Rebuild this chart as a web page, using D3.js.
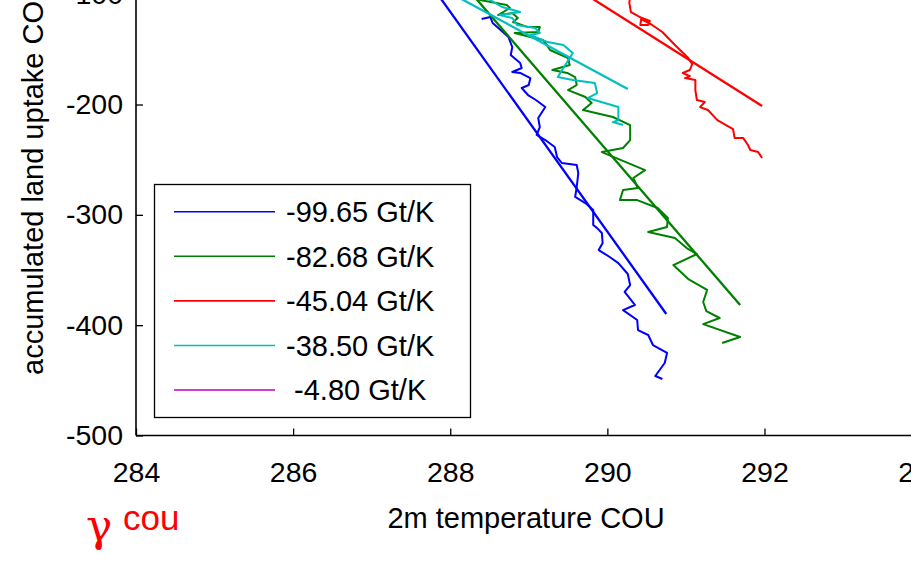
<!DOCTYPE html>
<html><head><meta charset="utf-8">
<script src="https://cdn.jsdelivr.net/npm/d3@7"></script>
<style>
body{margin:0;background:#fff;}
svg{display:block;}
text{font-family:"Liberation Sans",Arial,Helvetica,sans-serif;fill:#000;}
</style>
</head><body>
<svg id="c" width="911" height="563"></svg>
<script>
// ---- data ----
const xTicks = [284, 286, 288, 290, 292, 294];
const yTicks = [-500, -400, -300, -200, -100];
const seriesNames = ["-99.65 Gt/K", "-82.68 Gt/K", "-45.04 Gt/K", "-38.50 Gt/K", " -4.80 Gt/K"];
const seriesColors = ["#0000ff", "#008000", "#ff0000", "#00bfbf", "#bf00bf"];

// temperature (K) and accumulated land uptake (Gt C)
const blueT = [288.40,288.51,288.54,288.67,288.74,288.79,288.77,288.89,288.91,288.79,288.89,289.02,289.00,288.91,
  288.99,289.09,289.21,289.12,289.14,289.10,289.21,289.33,289.36,289.42,289.61,289.63,289.61,289.59,289.72,289.82,
  289.82,289.87,289.93,289.94,289.89,290.03,290.14,290.26,290.29,290.22,290.35,290.20,290.38,290.39,290.52,290.58,
  290.76,290.73,290.61,290.70];
const blueU = [-122.5,-120.7,-126.1,-134.3,-138.8,-147.9,-155.1,-162.4,-166.9,-170.5,-171.4,-176.0,-182.3,-185.0,
  -191.4,-195.9,-202.3,-212.2,-220.4,-227.6,-232.2,-238.5,-247.6,-253.0,-254.8,-262.1,-274.8,-283.8,-289.3,-295.6,
  -309.2,-312.0,-316.5,-325.5,-331.9,-338.2,-343.7,-353.6,-363.6,-369.9,-381.7,-386.3,-395.3,-404.4,-408.9,-418.0,
  -425.2,-434.3,-446.1,-448.8];

const greenT = [288.35,288.38,288.72,288.76,288.61,288.79,288.86,288.80,288.99,289.14,289.12,288.82,289.02,289.18,
  289.23,289.27,289.50,289.52,289.30,289.49,289.59,289.61,289.50,289.72,289.80,289.69,290.07,290.29,290.29,290.20,
  289.93,290.48,290.33,290.39,290.20,290.16,290.38,290.64,290.77,290.76,290.52,290.86,291.01,291.14,290.84,291.03,
  291.27,291.22,291.26,291.43,291.22,291.69,291.46];
const greenU = [-99.8,-105.3,-109.8,-112.5,-118.9,-117.1,-121.6,-125.2,-129.8,-129.8,-134.3,-135.2,-138.8,-141.5,
  -146.1,-150.6,-157.9,-164.2,-168.7,-171.4,-175.1,-182.3,-186.9,-193.2,-198.6,-205.0,-211.3,-218.6,-232.2,-239.4,
  -243.1,-259.4,-266.6,-275.7,-277.5,-286.6,-286.6,-293.8,-302.9,-311.0,-315.6,-321.0,-330.1,-335.5,-345.5,-358.2,
  -368.1,-379.0,-387.2,-393.5,-399.0,-410.7,-416.2];

const redT = [290.29,290.28,290.30,290.44,290.54,290.52,290.42,290.43,290.57,290.70,290.86,291.03,291.08,291.05,
  290.96,291.05,290.99,291.12,291.12,291.14,291.24,291.18,291.28,291.40,291.60,291.62,291.73,291.79,291.82,291.92,291.97];
const redU = [-99.8,-108.0,-116.2,-121.6,-124.3,-127.9,-127.9,-122.5,-127.9,-134.3,-146.1,-157.9,-163.3,-168.7,
  -171.4,-174.2,-176.0,-177.8,-186.9,-195.9,-197.7,-202.3,-205.0,-214.1,-222.2,-230.4,-230.4,-236.7,-241.2,-243.1,-248.5];

const cyanT = [288.35,288.51,288.66,288.89,288.63,288.79,288.85,289.08,289.14,289.02,289.24,289.44,289.56,289.52,
  289.40,289.37,289.56,289.84,289.87,289.75,290.14,290.14,290.07,290.20];
const cyanU = [-99.8,-105.3,-111.6,-116.2,-118.9,-121.6,-127.9,-130.7,-135.2,-137.0,-143.4,-146.1,-153.3,-157.9,
  -171.4,-175.1,-177.8,-180.5,-189.6,-194.1,-202.3,-214.1,-215.9,-218.6];

const magentaT = [];
const magentaU = [];

// regression lines (end points)
const fitT = [[287.84, 290.75], [288.28, 291.69], [289.72, 291.97], [288.03, 290.26], []];
const fitU = [[-100, -389.9], [-100, -381.7], [-100, -201.4], [-100, -185.95], []];

const curvesT = [blueT, greenT, redT, cyanT, magentaT];
const curvesU = [blueU, greenU, redU, cyanU, magentaU];

// ---- drawing ----
const svg = d3.select("#c");
svg.append("rect").attr("width", 911).attr("height", 563).attr("fill", "#fff");

const x = d3.scaleLinear().domain([284, 294]).range([136, 921.6]);
const y = d3.scaleLinear().domain([-500, -100]).range([435.5, -5.8]);
const line = d3.line().x(d => x(d[0])).y(d => y(d[1]));

const plot = svg.append("g");
curvesT.forEach((T, i) => {
  const pts = T.map((t, j) => [t, curvesU[i][j]]);
  if (pts.length) plot.append("path").attr("d", line(pts)).attr("fill", "none")
    .attr("stroke", seriesColors[i]).attr("stroke-width", 2).attr("stroke-linejoin", "round");
});
fitT.forEach((T, i) => {
  const pts = T.map((t, j) => [t, fitU[i][j]]);
  if (pts.length) plot.append("path").attr("d", line(pts)).attr("fill", "none")
    .attr("stroke", seriesColors[i]).attr("stroke-width", 2.3);
});

// axes
const fmt = d => String(d);
const xAxis = svg.append("g").attr("transform", "translate(0,435.5)")
  .call(d3.axisBottom(x).tickValues(xTicks).tickFormat(fmt).tickSizeInner(-7).tickSizeOuter(0).tickPadding(26));
const yAxis = svg.append("g").attr("transform", "translate(136,0)")
  .call(d3.axisLeft(y).tickValues(yTicks).tickFormat(fmt).tickSizeInner(-7).tickSizeOuter(0).tickPadding(13));
[xAxis, yAxis].forEach(g => {
  g.selectAll("path.domain").attr("stroke", "#000").attr("stroke-width", 1.6);
  g.selectAll(".tick line").attr("stroke", "#000").attr("stroke-width", 1.3);
  g.selectAll(".tick text").attr("font-size", 28.5).attr("fill", "#000");
});
yAxis.selectAll("path.domain").attr("d", "M0,-130V435.5");
xAxis.selectAll("path.domain").attr("d", "M136,0H930");

// axis labels
svg.append("text").attr("x", 526).attr("y", 528).attr("text-anchor", "middle")
  .attr("font-size", 29).text("2m temperature COU");
svg.append("text").attr("transform", "translate(43,375) rotate(-90)").attr("text-anchor", "start")
  .attr("font-size", 29).text("accumulated land uptake CO2 COU");

// legend
const lg = svg.append("g");
lg.append("rect").attr("x", 154.5).attr("y", 184.5).attr("width", 316).attr("height", 233)
  .attr("fill", "#fff").attr("stroke", "#000").attr("stroke-width", 1.3);
const legY = d3.scalePoint().domain(d3.range(seriesNames.length)).range([211.7, 390]);
seriesNames.forEach((n, i) => {
  lg.append("line").attr("x1", 174).attr("x2", 275).attr("y1", legY(i)).attr("y2", legY(i))
    .attr("stroke", seriesColors[i]).attr("stroke-width", 1.6);
  lg.append("text").attr("x", 286).attr("y", legY(i)).attr("dy", "0.36em").attr("font-size", 29)
    .attr("xml:space", "preserve").style("white-space", "pre").text(n);
});

// gamma annotation
svg.append("text").attr("x", 86).attr("y", 541).attr("font-size", 44)
  .style("font-family", "'DejaVu Serif', 'Liberation Serif', serif").style("fill", "#ff0000").text("γ");
svg.append("text").attr("x", 123).attr("y", 530).attr("font-size", 35)
  .style("fill", "#ff0000").text("cou");
</script>
</body></html>
